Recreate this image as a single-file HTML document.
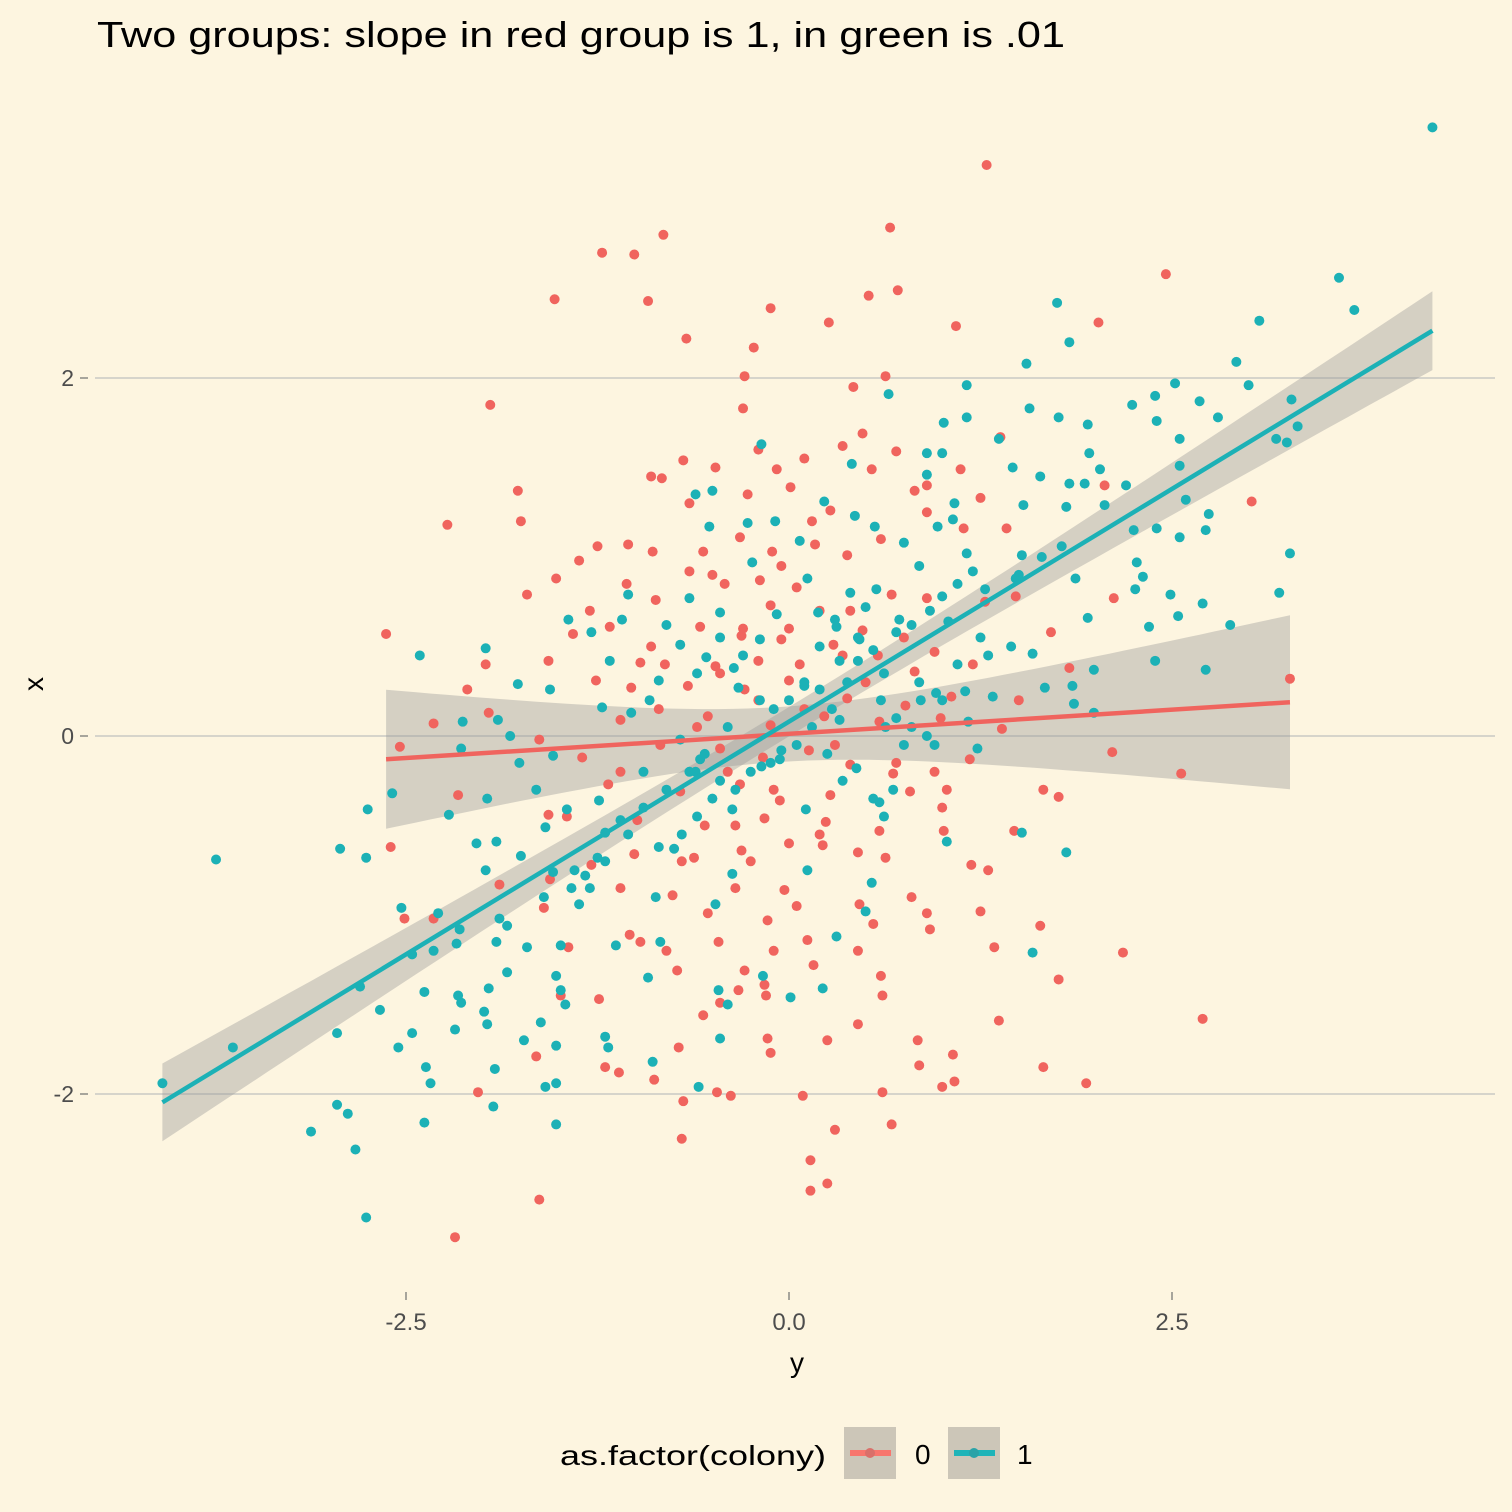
<!DOCTYPE html>
<html><head><meta charset="utf-8"><style>
html,body{margin:0;padding:0;background:#fdf5e0;}
svg{display:block;font-family:"Liberation Sans",sans-serif;}
</style></head><body>
<svg id="chart" width="1512" height="1512" viewBox="0 0 1512 1512">
<rect x="0" y="0" width="1512" height="1512" fill="#fdf5e0"/>
<text x="97" y="47" font-size="36" textLength="968" lengthAdjust="spacingAndGlyphs" fill="#000">Two groups: slope in red group is 1, in green is .01</text>
<g id="grid"></g>
<g id="ribbons"></g>
<g id="pts"></g>
<g id="lines"></g>
<g id="axes"></g>
<text x="797" y="1372" font-size="28" text-anchor="middle" fill="#000">y</text>
<text x="0" y="0" font-size="28" text-anchor="middle" fill="#000" transform="translate(43,684) rotate(-90)">x</text>
<g>
<text x="560" y="1465" font-size="28" textLength="266" lengthAdjust="spacingAndGlyphs" fill="#000">as.factor(colony)</text>
<g>
<rect x="844" y="1427" width="52" height="52" fill="#ccc6b8"/>
<line x1="850" y1="1453" x2="891" y2="1453" stroke="#f8766d" stroke-width="6"/>
<circle cx="870" cy="1453" r="5" fill="#d9706a"/>
<text x="915" y="1464" font-size="28" fill="#000">0</text>
</g>
<g>
<rect x="948" y="1427" width="52" height="52" fill="#ccc6b8"/>
<line x1="954" y1="1453" x2="995" y2="1453" stroke="#1fb4b8" stroke-width="6"/>
<circle cx="974" cy="1453" r="5" fill="#2aa3a8"/>
<text x="1017" y="1464" font-size="28" fill="#000">1</text>
</g>
</g>
</svg>
<script>
const redX=[1.29,0.66,-1.22,-1.01,-0.82,-1.53,-0.92,-0.12,0.52,0.71,0.26,2.46,1.09,2.02,-0.67,-0.23,-0.29,0.63,0.42,-0.30,-1.95,0.48,1.38,0.70,0.35,-0.69,-0.48,-0.90,-0.83,-0.08,0.10,0.54,0.90,1.12,-1.77,-1.75,-2.23,-0.27,0.01,2.06,3.02,1.25,0.82,0.27,1.14,1.42,-1.25,-1.05,-0.89,-0.56,-0.32,-0.11,0.17,0.38,-1.37,-1.52,-1.06,-0.65,-0.42,-0.19,0.05,0.67,0.90,2.12,-1.71,-0.87,-0.12,0.20,0.48,1.28,1.48,-2.63,-1.41,-1.17,-0.58,-0.31,-0.05,0.29,0.58,0.95,1.71,-1.57,-1.98,-0.97,-0.81,-0.48,-0.20,0.07,0.82,1.83,3.27,-2.10,-1.26,-1.03,-0.66,-0.29,0.00,0.38,0.76,1.06,-1.96,-1.10,-0.53,-0.12,0.23,0.59,0.99,1.39,-2.54,-2.32,-1.63,-1.35,-0.84,-0.45,-0.17,0.13,0.40,0.68,1.18,2.11,2.56,-2.16,-1.18,-0.71,-0.32,-0.06,0.27,0.79,1.03,1.66,1.76,-1.89,-2.60,-1.57,-0.99,-0.55,-0.16,0.24,0.59,1.01,1.47,-1.29,-1.01,-0.62,-0.31,0.22,0.63,1.19,-2.32,-2.51,-1.56,-1.10,-0.76,-0.35,-0.03,0.46,0.90,1.25,-1.60,-1.04,-0.53,-0.14,0.12,0.92,1.64,-1.44,-0.97,-0.46,-0.10,0.45,1.34,2.18,-0.73,-0.29,0.16,0.60,1.76,-0.33,-0.16,0.61,-1.24,-0.45,-1.49,0.45,1.37,2.70,-0.56,-0.14,-0.72,-0.12,0.84,1.07,-1.65,-1.20,-1.11,0.85,1.66,-0.88,1.00,1.08,1.94,-2.03,-0.47,-0.38,-0.69,0.61,0.09,0.30,0.67,-0.70,0.14,0.14,0.25,-1.63,-2.18,
-0.2,0.1,0.3,-0.4,0.5,-0.6,0.7,-0.1,0.2,-0.3,0.4,-0.5,0.6,-0.7,0.8,-0.9,1.0,-1.1,1.2,-0.05,0.05,-0.8,0.9,-1.3,1.3,-0.25,0.35,-0.45,0.15,-0.15,0.55,-0.65,0.75,-0.35,0.45,-0.85,0.95,-1.45,1.5,0.0,0.0,-0.2,0.25];
const redY=[3.19,2.84,2.70,2.69,2.80,2.44,2.43,2.39,2.46,2.49,2.31,2.58,2.29,2.31,2.22,2.17,2.01,2.01,1.95,1.83,1.85,1.69,1.67,1.59,1.62,1.54,1.50,1.45,1.44,1.49,1.55,1.49,1.40,1.49,1.37,1.20,1.18,1.35,1.39,1.40,1.31,1.33,1.37,1.26,1.16,1.16,1.06,1.07,1.03,1.03,1.11,1.03,1.07,1.01,0.98,0.88,0.85,0.92,0.85,0.87,0.83,0.79,0.77,0.77,0.79,0.76,0.73,0.70,0.59,0.75,0.78,0.57,0.57,0.61,0.61,0.56,0.54,0.51,0.45,0.47,0.58,0.42,0.40,0.41,0.40,0.39,0.42,0.40,0.36,0.38,0.32,0.26,0.31,0.27,0.28,0.26,0.31,0.21,0.17,0.22,0.13,0.09,0.11,0.06,0.11,0.08,0.10,0.04,-0.06,0.07,-0.02,-0.12,-0.05,-0.07,-0.12,-0.08,-0.16,-0.21,-0.13,-0.09,-0.21,-0.33,-0.27,-0.31,-0.27,-0.36,-0.33,-0.31,-0.30,-0.30,-0.34,-0.83,-0.62,-0.44,-0.47,-0.50,-0.46,-0.48,-0.53,-0.53,-0.53,-0.72,-0.66,-0.68,-0.64,-0.61,-0.68,-0.72,-1.02,-1.02,-0.80,-0.85,-0.89,-0.85,-0.86,-0.94,-0.99,-0.98,-0.96,-1.11,-0.99,-1.03,-1.14,-1.08,-1.06,-1.18,-1.15,-1.15,-1.20,-1.20,-1.18,-1.21,-1.31,-1.31,-1.28,-1.34,-1.36,-1.42,-1.39,-1.45,-1.47,-1.49,-1.45,-1.61,-1.59,-1.58,-1.56,-1.69,-1.74,-1.77,-1.70,-1.78,-1.79,-1.85,-1.88,-1.84,-1.85,-1.92,-1.96,-1.93,-1.94,-1.99,-1.99,-2.01,-2.04,-1.99,-2.01,-2.20,-2.17,-2.25,-2.37,-2.54,-2.50,-2.59,-2.80,
0.2,0.15,-0.05,-0.2,0.3,0.05,-0.15,-0.3,-0.55,0.6,0.7,0.9,1.1,-0.7,-0.9,0.5,-0.4,-0.2,0.4,0.95,-0.95,-1.2,1.25,0.7,-0.75,-0.7,0.45,0.35,1.2,-1.45,-1.05,1.3,0.55,-0.5,-0.65,0.15,-0.2,-0.45,0.2,0.6,-0.6,1.6,-1.7];
const tealX=[4.20,3.59,3.69,3.07,1.75,1.83,2.92,1.55,3.00,2.52,1.16,2.39,2.68,2.24,3.28,1.57,0.65,2.80,1.76,1.16,2.40,1.01,1.95,3.32,2.55,1.37,3.18,3.25,-0.18,1.96,0.90,1.00,2.55,0.41,1.46,2.03,0.90,1.64,1.83,1.93,2.20,-0.61,-0.50,2.59,1.53,1.08,2.06,1.81,0.23,2.74,0.43,1.07,-0.27,-0.09,-0.52,0.56,0.97,0.07,2.25,2.40,2.72,2.55,0.75,1.78,3.27,1.16,1.52,2.27,-0.24,0.85,2.31,1.87,1.48,0.12,0.57,1.28,2.26,3.20,2.49,2.70,-1.05,-0.65,-0.45,-0.08,0.19,0.31,-1.44,-1.09,-0.80,2.54,2.35,2.88,1.95,1.04,1.25,-1.29,-1.98,-2.41,1.59,-0.54,-0.36,0.45,2.39,1.99,2.72,-1.17,-0.85,-1.77,-1.56,-0.33,0.10,1.85,1.67,0.96,1.33,-1.22,-1.03,-1.90,-2.13,0.63,1.99,1.86,1.17,-1.82,-2.14,-1.54,-1.76,-0.95,-0.61,-0.18,0.44,1.23,-2.59,-2.75,-1.65,-1.24,-1.97,-2.22,-1.45,-1.10,-0.37,0.11,0.59,-1.59,-1.20,1.52,-2.04,-1.91,-2.93,-2.76,-3.74,-1.75,-1.25,-0.75,1.81,1.03,-1.98,-1.54,-1.33,-0.37,0.12,0.54,-1.42,-1.89,-1.37,-0.87,-0.48,0.50,-2.29,-2.53,-1.84,-2.15,-1.71,-1.91,-2.17,-1.49,-1.13,-2.46,0.31,1.59,-0.84,-1.52,-1.84,-2.32,-0.92,-0.17,-2.80,-2.38,-1.96,-2.16,-1.49,-0.46,0.22,-2.67,-2.14,-1.99,-1.46,-0.40,0.01,-1.62,-1.97,-2.95,-2.46,-2.18,-1.20,-0.45,-2.55,-1.73,-3.63,-1.52,-1.18,-0.89,-2.37,-1.92,-2.34,-1.59,-1.52,-4.09,-0.59,-1.93,-2.95,-2.88,-2.38,-1.52,-3.12,-2.83,-2.76,0.33,0.20,-0.19,-0.06,-0.58,-0.45,0.46,0.72,-0.91,-0.71,0.33,0.86,-0.19,-0.71,
0.45,0.55,0.62,0.38,0.28,0.15,0.05,-0.05,-0.12,-0.25,-0.35,-0.50,-0.60,-0.70,-0.85,0.70,0.80,0.92,1.00,1.10,1.20,0.50,0.40,0.30,0.20,0.60,0.70,0.80,0.90,0.95,1.10,1.30,1.45,-0.40,-0.55,-0.65,-0.80,-0.95,-1.05,-1.20,-1.30,-1.40,-1.60,0.10,0.00,-0.10,0.25,0.35,0.55,0.62,0.68,0.75,-0.30,-0.45,-0.60,0.85,1.00,1.15,1.50,1.65];
const tealY=[3.40,2.56,2.38,2.32,2.42,2.20,2.09,2.08,1.96,1.97,1.96,1.90,1.87,1.85,1.88,1.83,1.91,1.78,1.78,1.78,1.76,1.75,1.74,1.73,1.66,1.66,1.66,1.64,1.63,1.58,1.58,1.58,1.51,1.52,1.50,1.49,1.46,1.45,1.41,1.41,1.40,1.35,1.37,1.32,1.29,1.30,1.29,1.28,1.31,1.24,1.23,1.21,1.19,1.20,1.17,1.17,1.17,1.09,1.15,1.16,1.15,1.11,1.08,1.06,1.02,1.02,1.01,0.97,0.97,0.95,0.89,0.88,0.88,0.88,0.82,0.82,0.82,0.80,0.79,0.74,0.79,0.77,0.69,0.68,0.69,0.61,0.65,0.65,0.62,0.67,0.61,0.62,0.66,0.64,0.55,0.58,0.49,0.45,0.46,0.44,0.38,0.42,0.42,0.37,0.37,0.42,0.31,0.29,0.26,0.27,0.28,0.28,0.27,0.24,0.22,0.16,0.13,0.09,0.08,0.05,0.13,0.18,0.08,0.00,-0.07,-0.11,-0.15,-0.20,-0.20,-0.17,-0.18,-0.07,-0.32,-0.41,-0.30,-0.36,-0.35,-0.44,-0.41,-0.47,-0.41,-0.41,-0.37,-0.51,-0.54,-0.54,-0.60,-0.59,-0.63,-0.68,-0.69,-0.67,-0.68,-0.63,-0.65,-0.59,-0.75,-0.76,-0.78,-0.77,-0.75,-0.82,-0.85,-1.02,-0.94,-0.90,-0.94,-0.98,-0.99,-0.96,-1.06,-1.08,-1.18,-1.15,-1.16,-1.17,-1.17,-1.22,-1.12,-1.21,-1.15,-1.34,-1.32,-1.20,-1.35,-1.34,-1.40,-1.43,-1.41,-1.45,-1.42,-1.42,-1.41,-1.53,-1.49,-1.54,-1.50,-1.50,-1.46,-1.60,-1.61,-1.66,-1.66,-1.64,-1.68,-1.69,-1.74,-1.70,-1.74,-1.73,-1.74,-1.82,-1.85,-1.86,-1.94,-1.96,-1.94,-1.94,-1.96,-2.07,-2.06,-2.11,-2.16,-2.17,-2.21,-2.31,-2.69,0.42,0.26,0.20,-0.13,-0.13,-0.25,0.54,0.65,0.20,-0.02,0.09,0.20,0.54,0.51,
0.55,0.48,0.35,0.30,0.15,0.05,-0.05,-0.08,-0.15,-0.20,-0.30,-0.35,-0.45,-0.55,-0.62,0.58,0.62,0.70,0.78,0.85,0.92,0.72,0.80,0.65,0.50,0.20,0.10,0.05,0.00,-0.05,0.40,0.45,0.50,0.05,-0.10,-0.20,-0.30,-0.40,-0.55,-0.70,-0.85,-0.75,-0.90,0.30,0.20,0.15,-0.10,-0.25,-0.35,-0.45,-0.30,-0.05,0.45,0.55,0.35,0.30,0.20,0.25,0.90,1.00];
const xTicks=[-2.5,0,2.5];
const xTickLabels=["-2.5","0.0","2.5"];
const yTicks=[-2,0,2];
const yTickLabels=["-2","0","2"];

const NS="http://www.w3.org/2000/svg";
function sx(v){return 789+v*153.2;}
function sy(v){return 736-v*179;}
function mk(tag,attrs,parent){const e=document.createElementNS(NS,tag);for(const k in attrs)e.setAttribute(k,attrs[k]);parent.appendChild(e);return e;}
const grid=document.getElementById('grid'),axes=document.getElementById('axes');
yTicks.forEach((t,i)=>{
  const g=mk('line',{x1:95,x2:1495,y1:sy(t),y2:sy(t),stroke:'#c9c9c4','stroke-width':1.5},grid);
  
  
  const tk=mk('line',{x1:80,x2:88,y1:sy(t),y2:sy(t),stroke:'#8a8a86','stroke-width':1.5},axes);
  
  
  const lb=mk('text',{x:74,y:sy(t)+8,'font-size':23,'text-anchor':'end',fill:'#4d4d4d'},axes);
  lb.textContent=yTickLabels[i];
  
  
});
xTicks.forEach((t,i)=>{
  const tk=mk('line',{x1:sx(t),x2:sx(t),y1:1292,y2:1300,stroke:'#8a8a86','stroke-width':1.5},axes);
  
  
  const lb=mk('text',{x:sx(t),y:1330,'font-size':24,'text-anchor':'middle',fill:'#4d4d4d'},axes);
  lb.textContent=xTickLabels[i];
  
  
});
function fit(X,Y){
  const n=X.length;let mx=0,my=0;X.forEach(v=>mx+=v);Y.forEach(v=>my+=v);mx/=n;my/=n;
  let sxx=0,sxy=0;for(let i=0;i<n;i++){sxx+=(X[i]-mx)**2;sxy+=(X[i]-mx)*(Y[i]-my);}
  const b=sxy/sxx,a=my-b*mx;let ss=0;for(let i=0;i<n;i++)ss+=(Y[i]-a-b*X[i])**2;
  const s=Math.sqrt(ss/(n-2));
  return {a,b,s,n,mx,sxx,min:Math.min(...X),max:Math.max(...X)};
}
const pts=document.getElementById('pts'),rib=document.getElementById('ribbons'),lines=document.getElementById('lines');
function drawRibbon(f,name){
  const N=60,up=[],lo=[];
  for(let k=0;k<=N;k++){const x=f.min+(f.max-f.min)*k/N;const y=f.a+f.b*x;
    const se=f.s*Math.sqrt(1/f.n+(x-f.mx)**2/f.sxx)*1.96;
    up.push(sx(x).toFixed(1)+','+sy(y+se).toFixed(1));lo.unshift(sx(x).toFixed(1)+','+sy(y-se).toFixed(1));}
  const p=mk('polygon',{points:up.concat(lo).join(' '),fill:'#999999','fill-opacity':0.4},rib);
  
  
}
function drawLine(f,color,name){
  const l=mk('line',{x1:sx(f.min),y1:sy(f.a+f.b*f.min),x2:sx(f.max),y2:sy(f.a+f.b*f.max),stroke:color,'stroke-width':4.5},lines);
  
  
}
const fr=fit(redX,redY),ft=fit(tealX,tealY);
drawRibbon(fr,'ribbon-group-0');
drawRibbon(ft,'ribbon-group-1');
redX.forEach((v,i)=>{const c=mk('circle',{cx:sx(v),cy:sy(redY[i]),r:5,fill:'#f0645e'},pts);
  
  });
tealX.forEach((v,i)=>{const c=mk('circle',{cx:sx(v),cy:sy(tealY[i]),r:5,fill:'#1cb1b6'},pts);
  
  });
drawLine(fr,'#f0645e','fit-line-group-0');
drawLine(ft,'#1cb1b6','fit-line-group-1');
</script>
</body></html>
